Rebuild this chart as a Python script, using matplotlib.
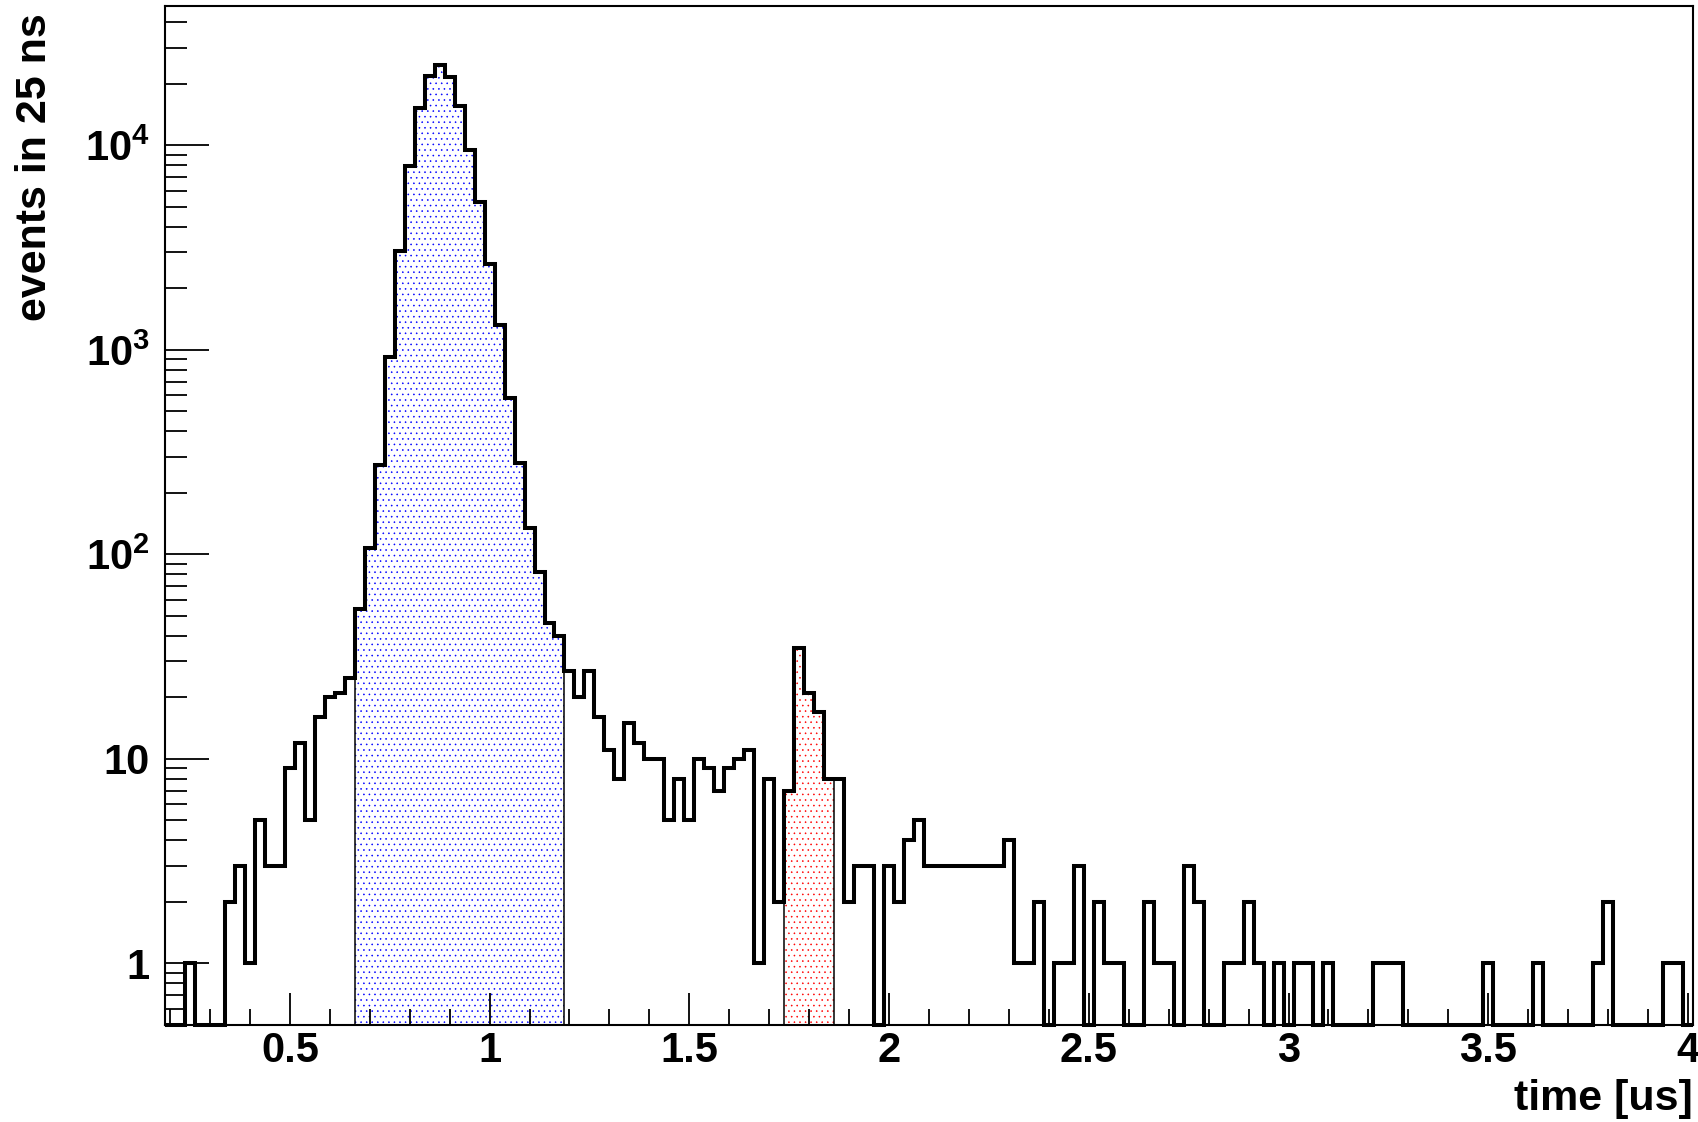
import numpy as np
import matplotlib
matplotlib.use('Agg')
import matplotlib.pyplot as plt
from matplotlib.ticker import MultipleLocator, LogLocator, FuncFormatter, NullFormatter

plt.rcParams['font.family'] = ['Liberation Sans', 'DejaVu Sans']
plt.rcParams['font.weight'] = 'bold'
plt.rcParams['mathtext.fontset'] = 'custom'
plt.rcParams['mathtext.rm'] = 'Liberation Sans:bold'
plt.rcParams['mathtext.it'] = 'Liberation Sans:bold'
plt.rcParams['mathtext.bf'] = 'Liberation Sans:bold'
plt.rcParams['hatch.linewidth'] = 0.4

# 25 ns bins, first bin centred on 0.2 us
t_first = 0.2
bin_width = 0.025

counts = [
    0, 0, 1, 0, 0, 0, 2, 3, 1, 5,
    3, 3, 9, 12, 5, 16, 20, 21, 25, 54,
    107, 273, 925, 3055, 7960, 15300, 21800, 24600, 21700, 15500,
    9510, 5310, 2620, 1322, 579, 281, 134, 82, 46, 40,
    27, 20, 27, 16, 11, 8, 15, 12, 10, 10,
    5, 8, 5, 10, 9, 7, 9, 10, 11, 1,
    8, 2, 7, 35, 21, 17, 8, 8, 2, 3,
    3, 0, 3, 2, 4, 5, 3, 3, 3, 3,
    3, 3, 3, 3, 4, 1, 1, 2, 0, 1,
    1, 3, 0, 2, 1, 1, 0, 0, 2, 1,
    1, 0, 3, 2, 0, 0, 1, 1, 2, 1,
    0, 1, 0, 1, 1, 0, 1, 0, 0, 0,
    0, 1, 1, 1, 0, 0, 0, 0, 0, 0,
    0, 0, 1, 0, 0, 0, 0, 1, 0, 0,
    0, 0, 0, 1, 2, 0, 0, 0, 0, 0,
    1, 1, 0,
]

# integration windows [us]
prompt_window = (0.6625, 1.1875)
delayed_window = (1.7375, 1.8625)

counts = np.array(counts, dtype=float)
edges = t_first - bin_width / 2 + bin_width * np.arange(len(counts) + 1)
centers = 0.5 * (edges[:-1] + edges[1:])

y_floor = 0.5
y_top = 48000

fig = plt.figure(figsize=(16.98, 11.22), dpi=100)
ax = fig.add_axes([165 / 1698, 1 - 1025 / 1122, (1693 - 165) / 1698, (1025 - 6) / 1122])
ax.set_yscale('log')
ax.set_xlim(edges[0], edges[-1])
ax.set_ylim(y_floor, y_top)


def draw_window(window, color):
    sel = np.nonzero((centers > window[0]) & (centers < window[1]))[0]
    i0, i1 = sel[0], sel[-1]
    vals = counts[i0:i1 + 1]
    e = edges[i0:i1 + 2]
    ax.stairs(vals, e, baseline=y_floor, fill=True, facecolor='none',
              edgecolor=color, hatch='...', linewidth=0)
    ax.stairs(vals, e, baseline=y_floor, color='black', linewidth=1.1)


draw_window(prompt_window, 'blue')
draw_window(delayed_window, 'red')

# zero bins sit on the bottom of the frame
shown = np.where(counts > 0, counts, y_floor)
h = ax.stairs(shown, edges, baseline=None, color='black', linewidth=2.9, clip_on=False)
h.set_joinstyle('miter')

ax.xaxis.set_major_locator(MultipleLocator(0.5))
ax.xaxis.set_minor_locator(MultipleLocator(0.1))
ax.xaxis.set_major_formatter(FuncFormatter(lambda v, p: f'{v:g}'))


def ylab(v, p):
    n = int(round(np.log10(v)))
    if n == 0:
        return '1'
    if n == 1:
        return '10'
    return r'$10^{%d}$' % n


ax.yaxis.set_major_locator(LogLocator(base=10))
ax.yaxis.set_minor_locator(LogLocator(base=10, subs=np.arange(2, 10)))
ax.yaxis.set_major_formatter(FuncFormatter(ylab))
ax.yaxis.set_minor_formatter(NullFormatter())

ax.tick_params(axis='x', which='major', direction='in', length=23, width=1.3, pad=4, labelsize=30)
ax.tick_params(axis='x', which='minor', direction='in', length=11.5, width=1.3)
ax.tick_params(axis='y', which='major', direction='in', length=31.7, width=1.3, pad=11, labelsize=30)
ax.tick_params(axis='y', which='minor', direction='in', length=15.8, width=1.3)

for s in ax.spines.values():
    s.set_linewidth(1.5)

fig.text(35 / 1698, 1 - 13 / 1122, 'events in 25 ns', rotation=90, ha='center', va='top',
         fontsize=31, fontweight='bold')
fig.text(1693 / 1698, 1 - 1110 / 1122, 'time [us]', ha='right', va='baseline',
         fontsize=31, fontweight='bold')

fig.savefig('out.png', dpi=100)
